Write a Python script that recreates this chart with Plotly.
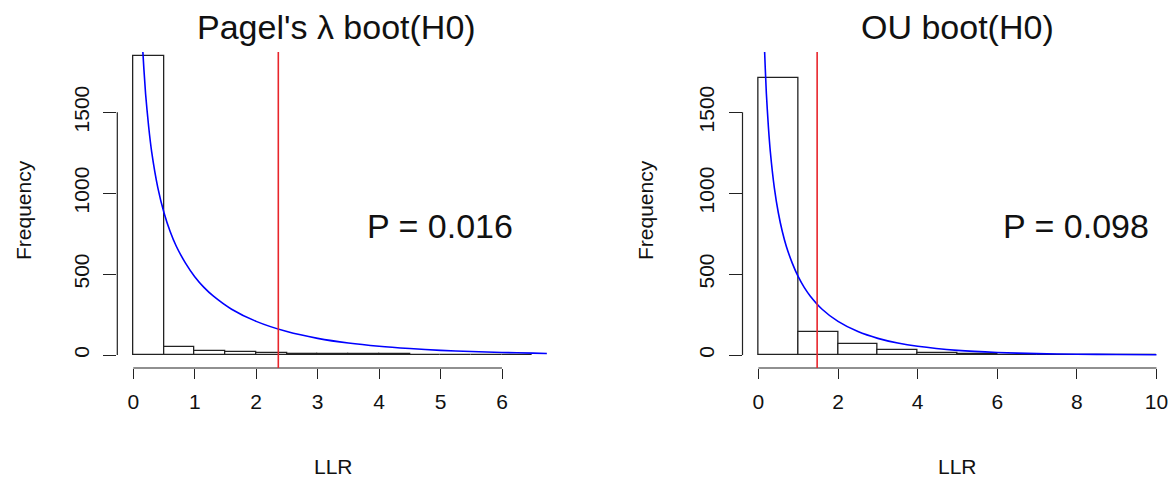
import plotly.graph_objects as go

# ---- data ----------------------------------------------------------------
# Pagel's lambda bootstrap under H0 (bin width 0.5)
lam_edges = [0.0, 0.5, 1.0, 1.5, 2.0, 2.5, 3.0, 3.5, 4.0, 4.5, 5.0, 5.5, 6.0, 6.5]
lam_counts = [1850, 48, 27, 20, 14, 7, 5, 4, 4, 1, 1, 0, 1]
lam_obs = 2.36
lam_p = "P = 0.016"

# OU bootstrap under H0 (bin width 1)
ou_edges = [0, 1, 2, 3, 4, 5, 6, 7, 8, 9, 10]
ou_counts = [1713, 140, 66, 33, 14, 6, 3, 1, 1, 1]
ou_obs = 1.475
ou_p = "P = 0.098"

# reference chi-square curves (expected frequency)
lam_curve_x = [0.10, 0.15, 0.20, 0.25, 0.30, 0.40, 0.50, 0.60, 0.70, 0.85, 1.0, 1.15, 1.3,
               1.6, 2.0, 2.5, 3.0, 3.5, 4.0, 4.5, 5.0, 5.5, 6.0, 6.5, 6.73]
lam_curve_y = [2400, 1911, 1614, 1412, 1254, 1033, 879, 763, 672, 568, 484, 418, 365,
               283, 208, 145, 103, 74, 54, 40, 29, 22, 16, 12, 10]
ou_curve_x = [0.10, 0.15, 0.20, 0.25, 0.30, 0.40, 0.50, 0.60, 0.70, 0.85, 1.0, 1.15, 1.3,
              1.6, 2.0, 2.5, 3.0, 3.5, 4.0, 5.0, 6.0, 7.0, 8.0, 9.0, 10.0]
ou_curve_y = [2400, 1911, 1614, 1412, 1254, 1033, 879, 763, 672, 568, 484, 418, 365,
              283, 208, 145, 103, 74, 54, 29, 16, 9, 5, 3, 2]

y_ticks = [0, 500, 1000, 1500]
lam_x_ticks = [0, 1, 2, 3, 4, 5, 6]
ou_x_ticks = [0, 2, 4, 6, 8, 10]

# ---- figure --------------------------------------------------------------
W, H = 1172, 478
FONT = "Liberation Sans, Arial, Helvetica, sans-serif"


def mids(edges):
    return [(a + b) / 2 for a, b in zip(edges[:-1], edges[1:])]


def widths(edges):
    return [b - a for a, b in zip(edges[:-1], edges[1:])]


fig = go.Figure()

panels = [
    (lam_edges, lam_counts, lam_curve_x, lam_curve_y, "x", "y"),
    (ou_edges, ou_counts, ou_curve_x, ou_curve_y, "x2", "y2"),
]
for edges, counts, cx, cy, xa, ya in panels:
    fig.add_trace(go.Bar(
        x=mids(edges), y=counts, width=widths(edges),
        marker=dict(color="white", line=dict(color="#222222", width=1.3)),
        xaxis=xa, yaxis=ya, hoverinfo="skip",
    ))
    fig.add_trace(go.Scatter(
        x=cx, y=cy, mode="lines",
        line=dict(color="#0000FF", width=1.6, shape="spline", smoothing=0.6),
        xaxis=xa, yaxis=ya, hoverinfo="skip",
    ))

y_dom = [(H - 368) / H, (H - 52) / H]
y_rng = [-80, 1872]
tickfont = dict(family=FONT, size=21, color="#111111")

common_x = dict(ticks="outside", ticklen=10, tickwidth=1, tickcolor="#222222",
                showline=False, showgrid=False, zeroline=False, tickfont=tickfont,
                ticklabelstandoff=5, fixedrange=True)
common_y = dict(ticks="outside", ticklen=13, tickwidth=1, tickcolor="#222222",
                showline=False, showgrid=False, zeroline=False, tickfont=tickfont,
                tickangle=-90, range=y_rng, domain=y_dom, tickvals=y_ticks,
                ticklabelstandoff=6, fixedrange=True)

fig.update_layout(
    width=W, height=H,
    margin=dict(l=0, r=0, t=0, b=0),
    paper_bgcolor="white", plot_bgcolor="white",
    showlegend=False, bargap=0,
    xaxis=dict(domain=[117.3 / W, 548.7 / W], range=[-0.26, 6.76],
               tickvals=lam_x_ticks, anchor="y", **common_x),
    yaxis=dict(anchor="x", **common_y),
    xaxis2=dict(domain=[742.5 / W, 1.0], range=[-0.4, 10.39],
                tickvals=ou_x_ticks, anchor="y2", **common_x),
    yaxis2=dict(anchor="x2", **common_y),
)

shapes = []
for xa, ya, xt, obs in [("x", "y", lam_x_ticks, lam_obs), ("x2", "y2", ou_x_ticks, ou_obs)]:
    # axis lines spanning first to last tick
    shapes.append(dict(type="line", xref=xa, yref=f"{ya} domain",
                       x0=xt[0], x1=xt[-1], y0=0, y1=0,
                       line=dict(color="#222222", width=1.2)))
    shapes.append(dict(type="line", xref=f"{xa} domain", yref=ya,
                       x0=0, x1=0, y0=y_ticks[0], y1=y_ticks[-1],
                       line=dict(color="#222222", width=1.2)))
    # observed statistic
    shapes.append(dict(type="line", xref=xa, yref=f"{ya} domain",
                       x0=obs, x1=obs, y0=0, y1=1,
                       line=dict(color="#E8252B", width=1.6), layer="above"))
fig.update_layout(shapes=shapes)

ann_font = dict(family=FONT, color="#111111")
annotations = [
    dict(text="Pagel's λ boot(H0)", x=336, y=27, size=34),
    dict(text="OU boot(H0)", x=957, y=27, size=34),
    dict(text=lam_p, x=440, y=226, size=34),
    dict(text=ou_p, x=1076, y=226, size=34),
    dict(text="LLR", x=333, y=466, size=21),
    dict(text="LLR", x=957, y=466, size=21),
]
ann = []
for a in annotations:
    ann.append(dict(text=a["text"], xref="paper", yref="paper",
                    x=a["x"] / W, y=1 - a["y"] / H, showarrow=False,
                    xanchor="center", yanchor="middle",
                    font=dict(size=a["size"], **ann_font)))
for fx in (23, 645):
    ann.append(dict(text="Frequency", xref="paper", yref="paper",
                    x=fx / W, y=1 - 210 / H, showarrow=False, textangle=-90,
                    xanchor="center", yanchor="middle",
                    font=dict(size=21, **ann_font)))
fig.update_layout(annotations=ann)

fig.write_html("out.html")
